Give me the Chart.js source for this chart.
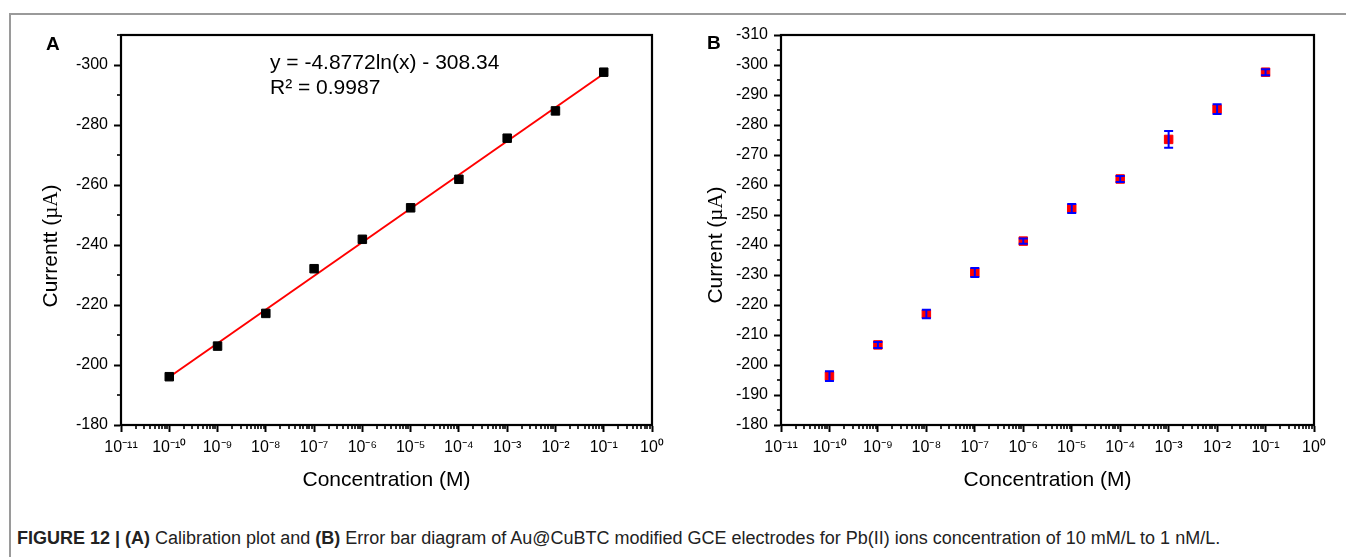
<!DOCTYPE html>
<html><head><meta charset="utf-8">
<script src="https://cdn.jsdelivr.net/npm/chart.js@4.4.1/dist/chart.umd.min.js"></script>
<style>
html,body{margin:0;padding:0;background:#fff;}
body{width:1346px;height:557px;position:relative;overflow:hidden;font-family:'Liberation Sans',Arial,sans-serif;color:#000;}
#frame{position:absolute;left:9px;top:13px;width:1340px;height:550px;border-top:2px solid #9a9a9a;border-left:2px solid #9a9a9a;}
#ca{position:absolute;left:0;top:0;}
#cb{position:absolute;left:680px;top:0;}
.lbl{position:absolute;font-weight:bold;font-size:19px;line-height:20px;}
.ytitle{position:absolute;font-size:21px;line-height:24px;white-space:nowrap;transform:translate(-50%,-50%) rotate(-90deg);}
.ytitle .u{font-family:'Liberation Serif','Times New Roman',serif;}
#eq{position:absolute;left:270px;top:49px;font-size:21px;line-height:25px;white-space:nowrap;}
#cap{position:absolute;left:17px;top:527px;font-size:18px;line-height:22px;white-space:nowrap;color:#222;}
</style></head>
<body>
<div id="frame"></div>
<canvas id="ca" width="680" height="500"></canvas>
<canvas id="cb" width="666" height="500"></canvas>
<div class="lbl" style="left:46px;top:34px;">A</div>
<div class="lbl" style="left:707px;top:33px;">B</div>
<div class="ytitle" style="left:50px;top:246px;">Currentt (<span class="u">µA</span>)</div>
<div class="ytitle" style="left:715px;top:245px;">Current (<span class="u">µA</span>)</div>
<div id="eq">y = -4.8772ln(x) - 308.34<br>R² = 0.9987</div>
<div id="cap"><b>FIGURE 12 | (A)</b> Calibration plot and <b>(B)</b> Error bar diagram of Au@CuBTC modified GCE electrodes for Pb(II) ions concentration of 10 mM/L to 1 nM/L.</div>
<script>
// ---- data ----
const concentrations = [1e-10, 1e-9, 1e-8, 1e-7, 1e-6, 1e-5, 1e-4, 1e-3, 1e-2, 1e-1];
const currentA = [-196.1, -206.3, -217.2, -232.1, -241.9, -252.4, -261.9, -275.6, -284.7, -297.6];
const currentB = [-196.3, -206.7, -217.0, -230.8, -241.3, -252.2, -262.0, -275.2, -285.3, -297.6];
const errorB   = [1.6, 1.0, 1.4, 1.5, 0.9, 1.5, 1.0, 2.8, 1.6, 1.0];
const fitX = [1e-10, 1e-1];
const fitY = [-196.0, -297.1];
const xTickValues = [1e-11, 1e-10, 1e-9, 1e-8, 1e-7, 1e-6, 1e-5, 1e-4, 1e-3, 1e-2, 1e-1, 1];
const xTickLabels = ['10⁻¹¹','10⁻¹⁰','10⁻⁹','10⁻⁸','10⁻⁷','10⁻⁶','10⁻⁵','10⁻⁴','10⁻³','10⁻²','10⁻¹','10⁰'];
const yTicksA = [-300, -280, -260, -240, -220, -200, -180];
const yMinorA = [-310, -290, -270, -250, -230, -210, -190];
const yTicksB = [-310, -300, -290, -280, -270, -260, -250, -240, -230, -220, -210, -200, -190, -180];
const yMinorB = [-305, -295, -285, -275, -265, -255, -245, -235, -225, -215, -205, -195, -185];

const FONT = "'Liberation Sans', Arial, sans-serif";

const framePlugin = {
  id: 'frameMinor',
  afterDraw(chart, args, opts) {
    const {ctx, chartArea: a} = chart;
    const xs = chart.scales.x, ys = chart.scales.y;
    ctx.save();
    ctx.strokeStyle = '#000';
    ctx.lineWidth = 1.6;
    for (let d = -11; d < 0; d++) {
      for (let m = 2; m <= 9; m++) {
        const px = Math.round(xs.getPixelForValue(m * Math.pow(10, d)));
        ctx.beginPath(); ctx.moveTo(px, a.bottom); ctx.lineTo(px, a.bottom + 4); ctx.stroke();
      }
    }
    for (const v of opts.yMinor) {
      const py = Math.round(ys.getPixelForValue(v));
      ctx.beginPath(); ctx.moveTo(a.left, py); ctx.lineTo(a.left - 4, py); ctx.stroke();
    }
    ctx.lineWidth = 2.2;
    ctx.strokeRect(a.left, a.top, a.right - a.left, a.bottom - a.top);
    ctx.restore();
  }
};

const errorPlugin = {
  id: 'errorBars',
  afterDatasetsDraw(chart) {
    const ds = chart.data.datasets[0];
    if (!ds.errors) return;
    const meta = chart.getDatasetMeta(0);
    const ys = chart.scales.y;
    const {ctx} = chart;
    ctx.save();
    ctx.strokeStyle = '#0000ff';
    ctx.lineWidth = 2;
    meta.data.forEach((el, i) => {
      const v = ds.data[i].y, e = ds.errors[i];
      const y1 = ys.getPixelForValue(v - e), y2 = ys.getPixelForValue(v + e);
      ctx.beginPath();
      ctx.moveTo(el.x, y1); ctx.lineTo(el.x, y2);
      ctx.moveTo(el.x - 4.5, y1); ctx.lineTo(el.x + 4.5, y1);
      ctx.moveTo(el.x - 4.5, y2); ctx.lineTo(el.x + 4.5, y2);
      ctx.stroke();
    });
    ctx.restore();
  }
};

function makeOptions(yTicks, yMinor, yWidth, padRight) {
  return {
    responsive: false,
    animation: false,
    events: [],
    layout: {padding: {left: 0, top: 35, right: padRight, bottom: 7}},
    plugins: {legend: {display: false}, tooltip: {enabled: false}, frameMinor: {yMinor}},
    scales: {
      x: {
        type: 'logarithmic', min: 1e-11, max: 1,
        afterBuildTicks: s => { s.ticks = xTickValues.map(v => ({value: v})); },
        afterFit: s => { s.height = 68; },
        ticks: {autoSkip: false, maxRotation: 0, minRotation: 0, padding: 6, color: '#000',
          font: {family: FONT, size: 16}, callback: (v, i) => xTickLabels[i]},
        grid: {drawOnChartArea: false, drawTicks: true, tickLength: 7, tickWidth: 2, tickColor: '#000'},
        border: {display: true, color: '#000', width: 2},
        title: {display: true, text: 'Concentration (M)', color: '#000',
          font: {family: FONT, size: 21}, padding: {top: 0, bottom: 0}}
      },
      y: {
        type: 'linear', min: -310, max: -180, reverse: true,
        afterBuildTicks: s => { s.ticks = yTicks.map(v => ({value: v})); },
        afterFit: s => { s.width = yWidth; },
        ticks: {autoSkip: false, padding: 6, color: '#000', font: {family: FONT, size: 16},
          callback: v => String(v)},
        grid: {drawOnChartArea: false, drawTicks: true, tickLength: 7, tickWidth: 2, tickColor: '#000'},
        border: {display: true, color: '#000', width: 2}
      }
    }
  };
}

new Chart(document.getElementById('ca'), {
  type: 'scatter',
  data: {
    datasets: [
      {data: concentrations.map((c, i) => ({x: c, y: currentA[i]})),
       pointStyle: 'rect', pointRadius: 6, backgroundColor: '#000', borderColor: '#000', borderWidth: 1, order: 1},
      {data: fitX.map((c, i) => ({x: c, y: fitY[i]})), showLine: true, pointRadius: 0,
       borderColor: '#ff0000', borderWidth: 2, order: 2}
    ]
  },
  options: makeOptions(yTicksA, yMinorA, 121, 28),
  plugins: [framePlugin]
});

new Chart(document.getElementById('cb'), {
  type: 'scatter',
  data: {
    datasets: [
      {data: concentrations.map((c, i) => ({x: c, y: currentB[i]})), errors: errorB,
       pointStyle: 'rect', pointRadius: 6, backgroundColor: '#ff0000', borderColor: '#ff0000', borderWidth: 1}
    ]
  },
  options: makeOptions(yTicksB, yMinorB, 101, 32),
  plugins: [framePlugin, errorPlugin]
});
</script>
</body></html>
